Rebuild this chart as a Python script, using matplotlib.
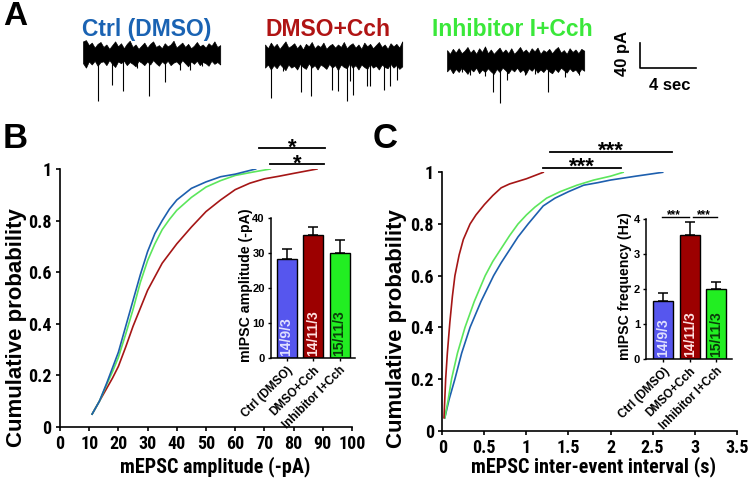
import numpy as np
import matplotlib.pyplot as plt
from matplotlib.ticker import FixedLocator

plt.rcParams['font.family'] = ['Liberation Sans', 'DejaVu Sans']
plt.rcParams['font.weight'] = 'bold'
plt.rcParams['axes.labelweight'] = 'bold'
NARROW = 'Roboto Condensed'

# ---------------- data ----------------
groups = ['Ctrl (DMSO)', 'DMSO+Cch', 'Inhibitor I+Cch']
n_labels = ['14/9/3', '14/11/3', '15/11/3']
title_colors = ['#1a63b3', '#b01414', '#3ae83a']
line_colors = ['#1d5fae', '#a51616', '#5ce65c']
bar_colors = ['#5656ee', '#9c0000', '#22ee22']
bar_text_colors = ['#e0e0ff', '#ffe0e0', '#0a3d0a']

# panel A: example traces (s, pA relative to baseline)
trace_len = 9.8
trace_starts = [5.93, 18.93, 31.93]
trace_levels = [-27, -30, -37]
up1 = [20, 22, 14, 18, 10, 16, 19, 11, 15, 8, 14, 20, 12, 17, 9, 16, 21, 11, 15, 8, 13, 18, 10, 16,
       20, 11, 14, 9, 17, 12, 15, 21, 10, 14, 18, 11, 16, 9, 13, 19, 12, 15, 10, 17, 13, 20, 11, 14]
lo1 = [-15, -22, -12, -17, -11, -19, -13, -12, -18, -10, -16, -21, -12, -15, -11, -18, -13, -16,
       -20, -11, -14, -18, -12, -17, -10, -15, -19, -12, -16, -11, -18, -14, -12, -17, -10, -15,
       -20, -12, -16, -11, -18, -13, -15, -19, -11, -16, -13, -17]
up2 = [18, 12, 21, 14, 19, 11, 17, 23, 13, 16, 20, 12, 18, 10, 19, 15, 22, 12, 17, 14, 21, 11, 16, 19,
       13, 18, 14, 22, 12, 17, 20, 13, 18, 11, 21, 15, 19, 12, 17, 22, 14, 18, 11, 20, 15, 19, 13, 23]
lo2 = [-19, -14, -22, -15, -20, -13, -18, -23, -14, -19, -16, -22, -13, -18, -21, -12, -19, -15,
       -22, -14, -17, -21, -13, -19, -15, -23, -14, -18, -20, -12, -19, -15, -22, -14, -18, -21,
       -13, -19, -16, -22, -14, -18, -20, -13, -19, -15, -21, -17]
up3 = [16, 10, 18, 12, 19, 11, 15, 21, 12, 17, 10, 19, 13, 22, 11, 17, 10, 15, 20, 12, 17, 11, 19, 10,
       15, 21, 13, 17, 11, 19, 14, 20, 10, 16, 13, 18, 11, 17, 21, 12, 16, 10, 19, 13, 17, 11, 18, 15]
lo3 = [-18, -13, -21, -14, -19, -12, -16, -22, -14, -18, -12, -21, -15, -19, -13, -18, -22, -14,
       -19, -12, -16, -21, -14, -18, -12, -19, -15, -22, -13, -17, -12, -20, -15, -19, -13, -18,
       -21, -14, -19, -12, -16, -20, -13, -18, -15, -21, -14, -17]
sp1_t = [0.21, 1.09, 2.05, 2.88, 3.88, 4.74, 5.86, 6.93, 7.64, 8.5]
sp1_d = [21, 76, 50, 60, 22, 68, 45, 26, 26, 20]
sp2_t = [0.45, 1.3, 2.57, 3.29, 4.81, 5.24, 5.84, 6.07, 6.31, 7.26, 7.5, 8.5, 8.93, 9.41]
sp2_d = [68, 24, 58, 65, 54, 57, 73, 41, 62, 49, 49, 54, 49, 38]
sp3_t = [1.07, 1.64, 2.7, 3.29, 3.79, 4.29, 5.57, 6.3, 7.21, 8.43, 9.43]
sp3_d = [19, 24, 26, 51, 69, 32, 24, 22, 51, 27, 24]
ups = [up1, up2, up3]
los = [lo1, lo2, lo3]
spike_t = [sp1_t, sp2_t, sp3_t]
spike_d = [sp1_d, sp2_d, sp3_d]

# panel B: cumulative amplitude
ampB_ctrl_x = [11, 13.5, 16, 18, 20, 22.5, 25, 27.5, 30, 32.5, 35, 37.5, 40, 45, 50, 55, 60, 67]
ampB_ctrl_y = [0.05, 0.1, 0.17, 0.23, 0.29, 0.39, 0.49, 0.59, 0.68, 0.75, 0.8, 0.845, 0.88,
               0.925, 0.95, 0.97, 0.98, 1.0]
ampB_cch_x = [11, 13.5, 16, 18, 20, 22.5, 25, 27.5, 30, 35, 40, 45, 50, 55, 60, 65, 70, 75, 80, 88]
ampB_cch_y = [0.05, 0.1, 0.15, 0.19, 0.235, 0.31, 0.39, 0.46, 0.53, 0.635, 0.71, 0.775, 0.835,
              0.88, 0.92, 0.945, 0.962, 0.972, 0.983, 1.0]
ampB_inh_x = [11, 13.5, 16, 18, 20, 22.5, 25, 27.5, 30, 32.5, 35, 37.5, 40, 45, 50, 55, 60, 66, 72]
ampB_inh_y = [0.05, 0.1, 0.165, 0.215, 0.27, 0.36, 0.455, 0.56, 0.645, 0.71, 0.765, 0.805, 0.84,
              0.89, 0.93, 0.955, 0.975, 0.988, 1.0]
amp_means = [28.3, 35.2, 30.2]
amp_errs = [2.9, 2.3, 3.5]

# panel C: cumulative inter-event interval
iei_ctrl_x = [0.03, 0.08, 0.15, 0.23, 0.33, 0.46, 0.61, 0.7, 0.8, 0.9, 1.02, 1.2, 1.34, 1.5,
              1.68, 1.85, 2.0, 2.3, 2.62]
iei_ctrl_y = [0.05, 0.12, 0.2, 0.3, 0.4, 0.5, 0.6, 0.65, 0.7, 0.75, 0.8, 0.87, 0.9, 0.925,
              0.95, 0.96, 0.97, 0.985, 1.0]
iei_cch_x = [0.02, 0.04, 0.06, 0.09, 0.12, 0.15, 0.2, 0.25, 0.33, 0.4, 0.5, 0.6, 0.7, 0.8,
             0.9, 1.0, 1.2]
iei_cch_y = [0.05, 0.2, 0.3, 0.42, 0.52, 0.6, 0.68, 0.74, 0.8, 0.835, 0.875, 0.91, 0.94,
             0.955, 0.965, 0.975, 1.0]
iei_inh_x = [0.03, 0.07, 0.11, 0.18, 0.27, 0.38, 0.51, 0.6, 0.7, 0.8, 0.9, 1.0, 1.1, 1.24,
             1.4, 1.6, 1.8, 2.0, 2.15]
iei_inh_y = [0.05, 0.12, 0.2, 0.3, 0.4, 0.5, 0.6, 0.655, 0.705, 0.755, 0.8, 0.835, 0.865,
             0.9, 0.925, 0.95, 0.97, 0.985, 1.0]
freq_means = [1.68, 3.55, 2.02]
freq_errs = [0.22, 0.37, 0.2]

prob_ticks = [0, 0.2, 0.4, 0.6, 0.8, 1]
prob_labels = ['0', '0.2', '0.4', '0.6', '0.8', '1']
amp_ticks = list(range(0, 101, 10))
iei_ticks = [0, 0.5, 1, 1.5, 2, 2.5, 3, 3.5]
iei_labels = ['0', '0.5', '1', '1.5', '2', '2.5', '3', '3.5']

W, H = 750, 479


def fx(px):
    return px / W


def fy(py):
    return 1 - py / H


fig = plt.figure(figsize=(7.5, 4.79), dpi=100)

# ---------------- panel A ----------------
axA = fig.add_axes([0, fy(112), 1, 82 / H])
axA.set_xlim(0, W / 14)
axA.set_ylim(-120, 11.2)
axA.axis('off')
for i in range(3):
    t_env = np.linspace(0, trace_len, len(ups[i])) + trace_starts[i]
    axA.fill_between(t_env, np.array(los[i]) + trace_levels[i], np.array(ups[i]) + trace_levels[i],
                     color='black', lw=0.5)
    st = np.array(spike_t[i]) + trace_starts[i]
    axA.vlines(st, trace_levels[i], trace_levels[i] - np.array(spike_d[i]), color='black', lw=0.8)
    fig.text(fx([147, 328, 512][i]), fy(36), groups[i], color=title_colors[i],
             fontsize=16.5, ha='center', va='baseline')

# scale bar 4 s / 40 pA
sb_x, sb_y = 45.71, -49.6
axA.plot([sb_x, sb_x, sb_x + 4], [sb_y + 40, sb_y, sb_y], color='black', lw=1.2)
fig.text(fx(623), fy(53), '40 pA', rotation=90, fontsize=12, ha='center', va='center')
fig.text(fx(670), fy(90), '4 sec', fontsize=12, ha='center', va='baseline')

fig.text(fx(3), fy(25), 'A', fontsize=24, ha='left', va='baseline')
fig.text(fx(3), fy(148), 'B', fontsize=25, ha='left', va='baseline')
fig.text(fx(373), fy(148), 'C', fontsize=25, ha='left', va='baseline')

tick_font = dict(family=NARROW, weight='bold', size=13)


def style_main(ax, xticks, xlabels):
    for s in ['top', 'right']:
        ax.spines[s].set_visible(False)
    for s in ['left', 'bottom']:
        ax.spines[s].set_linewidth(1.2)
    ax.tick_params(direction='out', length=3, width=1.2, pad=3)
    ax.set_ylim(0, 1)
    ax.set_xlim(xticks[0], xticks[-1])
    ax.set_yticks(prob_ticks)
    ax.set_yticklabels(prob_labels, fontdict=tick_font)
    ax.set_xticks(xticks)
    ax.set_xticklabels(xlabels, fontdict=tick_font)


# ---------------- panel B ----------------
axB = fig.add_axes([fx(60), fy(427), 292 / W, 258 / H])
style_main(axB, amp_ticks, [str(v) for v in amp_ticks])
axB.plot(ampB_cch_x, ampB_cch_y, color=line_colors[1], lw=1.2)
axB.plot(ampB_inh_x, ampB_inh_y, color=line_colors[2], lw=1.2)
axB.plot(ampB_ctrl_x, ampB_ctrl_y, color=line_colors[0], lw=1.2)
axB.set_ylabel('Cumulative probability', fontsize=16)
axB.yaxis.set_label_coords((27 - 60) / 292, 0.386)
axB.set_xlabel('mEPSC amplitude (-pA)', fontsize=14.5, family=NARROW, va='top')
axB.xaxis.set_label_coords(0.5325, -0.115)
for (x0, x1, yl) in [(68.3, 90.8, 1.08), (71.9, 90.4, 1.019)]:
    axB.plot([x0, x1], [yl, yl], color='black', lw=1.3, clip_on=False)
    axB.text((x0 + x1) / 2, yl - 0.02, '*', fontsize=16, ha='center', va='baseline')

# ---------------- panel C ----------------
axC = fig.add_axes([fx(442.3), fy(430.7), 294.4 / W, 258.4 / H])
style_main(axC, iei_ticks, iei_labels)
axC.plot(iei_ctrl_x, iei_ctrl_y, color=line_colors[0], lw=1.2)
axC.plot(iei_inh_x, iei_inh_y, color=line_colors[2], lw=1.2)
axC.plot(iei_cch_x, iei_cch_y, color=line_colors[1], lw=1.2)
axC.set_ylabel('Cumulative probability', fontsize=16)
axC.yaxis.set_label_coords((407 - 442.3) / 294.4, 0.397)
axC.set_xlabel('mEPSC inter-event interval (s)', fontsize=14.5, family=NARROW, va='top')
axC.xaxis.set_label_coords(0.512, -0.1)
for (x0, x1, yl) in [(1.28, 2.73, 1.08), (1.2, 2.12, 1.018)]:
    axC.plot([x0, x1], [yl, yl], color='black', lw=1.3, clip_on=False)
    axC.text((x0 + x1) / 2, yl - 0.02, '***', fontsize=16, ha='center', va='baseline')


# ---------------- insets ----------------
def inset(rect, means, errs, ymax, yticks, ylabel, xlim, lab_x, text_y):
    ax = fig.add_axes(rect)
    ax.patch.set_alpha(0)
    x = np.arange(3)
    ax.bar(x, means, width=0.76, color=bar_colors, edgecolor='black', lw=1.0, zorder=2)
    ax.errorbar(x, means, yerr=[[0, 0, 0], errs], fmt='none', ecolor='black', elinewidth=1.1,
                capsize=3.5, capthick=1.1, zorder=1)
    for s in ['top', 'right']:
        ax.spines[s].set_visible(False)
    for s in ['left', 'bottom']:
        ax.spines[s].set_linewidth(1.1)
    ax.set_xlim(*xlim)
    ax.set_ylim(0, ymax)
    ax.set_yticks(yticks)
    ax.set_yticklabels([str(v) for v in yticks], fontsize=8, fontweight='bold')
    ax.set_xticks(x)
    ax.set_xticklabels(groups, rotation=45, ha='right', rotation_mode='anchor',
                       fontsize=8.5, fontweight='bold')
    ax.tick_params(direction='out', length=2.2, width=1, pad=2)
    ax.set_ylabel(ylabel, fontsize=10.2)
    ax.yaxis.set_label_coords(lab_x, 0.52)
    for i in range(3):
        ax.text(i, text_y, n_labels[i], rotation=90, ha='center', va='bottom', fontsize=10,
                color=bar_text_colors[i])
    return ax


insB = inset([fx(270.7), fy(358.3), 84.3 / W, 140 / H], amp_means, amp_errs, 40,
             [0, 10, 20, 30, 40], 'mIPSC amplitude (-pA)', (-0.6, 2.58), -0.21, 0.6)

insC = inset([fx(646), fy(359.3), 85.7 / W, 140 / H], freq_means, freq_errs, 4,
             [0, 1, 2, 3, 4], 'mIPSC frequency (Hz)', (-0.66, 2.6), -0.163, 0.06)
for (x0, x1) in [(-0.06, 0.99), (1.12, 2.05)]:
    insC.plot([x0, x1], [4.07, 4.07], color='black', lw=1.0, clip_on=False)
    insC.text((x0 + x1) / 2 - 0.05, 4.02, '***', fontsize=8.5, ha='center', va='baseline')

fig.savefig('out.png', dpi=100)
